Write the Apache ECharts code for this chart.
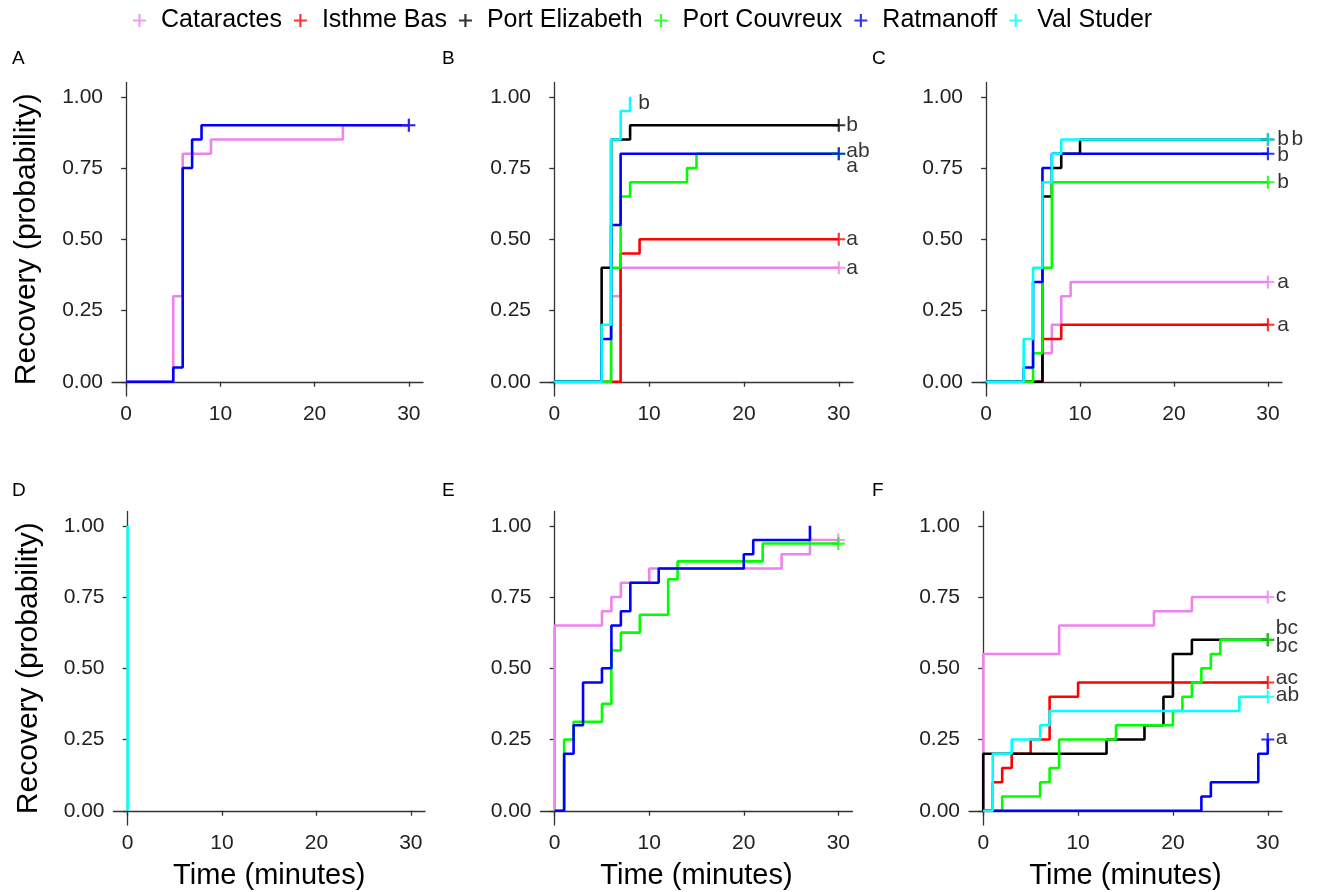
<!DOCTYPE html>
<html><head><meta charset="utf-8">
<script src="https://cdn.jsdelivr.net/npm/echarts@6/dist/echarts.min.js"></script>
<style>html,body{margin:0;padding:0;background:#fff}#c{width:1317px;height:892px}</style>
</head><body><div id="c"></div>
<script>
// ---------- DATA ----------
const groups = ['Cataractes', 'Isthme Bas', 'Port Elizabeth', 'Port Couvreux', 'Ratmanoff', 'Val Studer'];
const panelLetters = ['A', 'B', 'C', 'D', 'E', 'F'];
const xTicks = [0, 10, 20, 30];
const yTicks = [0, 0.25, 0.5, 0.75, 1];
const xTitle = 'Time (minutes)';
const yTitle = 'Recovery (probability)';

// Kaplan-Meier curves: [time, recovery probability]
const A_Cataractes = [[0,0],[5,0.30],[6,0.80],[9,0.85],[23,0.90],[30,0.90]];
const A_Ratmanoff  = [[0,0],[5,0.05],[6,0.75],[7,0.85],[8,0.90],[30,0.90]];

const B_Cataractes    = [[0,0],[6,0.30],[7,0.40],[30,0.40]];
const B_IsthmeBas     = [[0,0],[7,0.45],[9,0.50],[30,0.50]];
const B_PortElizabeth = [[0,0],[5,0.40],[6,0.85],[8,0.90],[30,0.90]];
const B_PortCouvreux  = [[0,0],[6,0.40],[7,0.65],[8,0.70],[14,0.75],[15,0.80],[30,0.80]];
const B_Ratmanoff     = [[0,0],[5,0.15],[6,0.55],[7,0.80],[30,0.80]];
const B_ValStuder     = [[0,0],[5,0.20],[6,0.85],[7,0.95],[8,1.00]];

const C_Cataractes    = [[0,0],[6,0.10],[7,0.20],[8,0.30],[9,0.35],[30,0.35]];
const C_IsthmeBas     = [[0,0],[6,0.15],[8,0.20],[30,0.20]];
const C_PortElizabeth = [[0,0],[6,0.65],[7,0.75],[8,0.80],[10,0.85],[30,0.85]];
const C_PortCouvreux  = [[0,0],[5,0.10],[6,0.40],[7,0.70],[30,0.70]];
const C_Ratmanoff     = [[0,0],[4,0.05],[5,0.35],[6,0.75],[7,0.80],[30,0.80]];
const C_ValStuder     = [[0,0],[4,0.15],[5,0.40],[6,0.70],[7,0.80],[8,0.85],[30,0.85]];

const D_ValStuder = [[0,0],[0,1.00]];

const E_Cataractes   = [[0,0],[0,0.65],[5,0.70],[6,0.75],[7,0.80],[10,0.85],[24,0.90],[27,0.95],[30,0.95]];
const E_PortCouvreux = [[0,0],[1,0.25],[2,0.3125],[5,0.375],[6,0.5625],[7,0.625],[9,0.6875],[12,0.8125],[13,0.875],[22,0.9375],[30,0.9375]];
const E_Ratmanoff    = [[0,0],[1,0.20],[2,0.30],[3,0.45],[5,0.50],[6,0.65],[7,0.70],[8,0.80],[11,0.85],[20,0.90],[21,0.95],[27,0.95],[27,1.00]];

const F_Cataractes    = [[0,0],[0,0.55],[8,0.65],[18,0.70],[22,0.75],[30,0.75]];
const F_IsthmeBas     = [[0,0],[1,0.10],[2,0.15],[3,0.20],[5,0.25],[7,0.40],[10,0.45],[30,0.45]];
const F_PortElizabeth = [[0,0],[0,0.20],[13,0.25],[17,0.30],[19,0.40],[20,0.55],[22,0.60],[30,0.60]];
const F_PortCouvreux  = [[0,0],[2,0.05],[6,0.10],[7,0.15],[8,0.25],[14,0.30],[20,0.35],[21,0.40],[22,0.45],[23,0.50],[24,0.55],[25,0.60],[30,0.60]];
const F_Ratmanoff     = [[0,0],[23,0.05],[24,0.10],[29,0.20],[30,0.25]];
const F_ValStuder     = [[0,0],[1,0.20],[3,0.25],[6,0.30],[7,0.35],[27,0.40],[30,0.40]];

// censoring marks: [group, time, probability]
const A_censor = [['Cataractes',30,0.90],['Ratmanoff',30,0.90]];
const B_censor = [['Cataractes',30,0.40],['Isthme Bas',30,0.50],['Port Elizabeth',30,0.90],['Port Couvreux',30,0.80],['Ratmanoff',30,0.80]];
const C_censor = [['Cataractes',30,0.35],['Isthme Bas',30,0.20],['Port Elizabeth',30,0.85],['Port Couvreux',30,0.70],['Ratmanoff',30,0.80],['Val Studer',30,0.85]];
const D_censor = [];
const E_censor = [['Cataractes',30,0.95],['Port Couvreux',30,0.9375]];
const F_censor = [['Cataractes',30,0.75],['Isthme Bas',30,0.45],['Port Elizabeth',30,0.60],['Port Couvreux',30,0.60],['Ratmanoff',30,0.25],['Val Studer',30,0.40]];

// significance letters: [time, probability, text]
const A_letters = [];
const B_letters = [[8.85,0.977,'b'],[30.8,0.90,'b'],[30.8,0.81,'ab'],[30.8,0.755,'a'],[30.8,0.50,'a'],[30.8,0.40,'a']];
const C_letters = [[31.0,0.85,'b'],[32.5,0.85,'b'],[31.0,0.795,'b'],[31.0,0.70,'b'],[31.0,0.35,'a'],[31.0,0.197,'a']];
const D_letters = [];
const E_letters = [];
const F_letters = [[30.85,0.754,'c'],[30.85,0.641,'bc'],[30.85,0.577,'bc'],[30.85,0.466,'ac'],[30.85,0.407,'ab'],[30.85,0.255,'a']];

// ---------- ASSEMBLY ----------
const panelCurves = [
  [['Cataractes',A_Cataractes],['Ratmanoff',A_Ratmanoff]],
  [['Cataractes',B_Cataractes],['Isthme Bas',B_IsthmeBas],['Port Elizabeth',B_PortElizabeth],['Port Couvreux',B_PortCouvreux],['Ratmanoff',B_Ratmanoff],['Val Studer',B_ValStuder]],
  [['Cataractes',C_Cataractes],['Isthme Bas',C_IsthmeBas],['Port Elizabeth',C_PortElizabeth],['Port Couvreux',C_PortCouvreux],['Ratmanoff',C_Ratmanoff],['Val Studer',C_ValStuder]],
  [['Val Studer',D_ValStuder]],
  [['Cataractes',E_Cataractes],['Port Couvreux',E_PortCouvreux],['Ratmanoff',E_Ratmanoff]],
  [['Cataractes',F_Cataractes],['Isthme Bas',F_IsthmeBas],['Port Elizabeth',F_PortElizabeth],['Port Couvreux',F_PortCouvreux],['Ratmanoff',F_Ratmanoff],['Val Studer',F_ValStuder]]
];
const panelCensor = [A_censor,B_censor,C_censor,D_censor,E_censor,F_censor];
const panelText = [A_letters,B_letters,C_letters,D_letters,E_letters,F_letters];

// ---------- STYLE / LAYOUT ----------
const groupColors = ['#EE82EE','#FF0000','#000000','#00FF00','#0000FF','#00FFFF'];
const colorOf = g => groupColors[groups.indexOf(g)];
const FONT = 'Liberation Sans, Arial, Helvetica, sans-serif';
const plusPath = 'path://M5,0h2v5h5v2h-5v5h-2v-5h-5v-2h5z';
const gridBoxes = [
  {left:112,   top:82.5,  width:311,   height:313.5},
  {left:540,   top:82.5,  width:313,   height:313.5},
  {left:972,   top:82.5,  width:310,   height:313.5},
  {left:113.5, top:511.5, width:311.5, height:313.5},
  {left:540.5, top:511.5, width:312,   height:313.5},
  {left:969,   top:511.5, width:313,   height:313.5}
];
const letterPos = [[12,49],[442,49],[872,49],[12,481],[442,481],[872,481]];
const axisCol = '#333';

const grid = [], xAxis = [], yAxis = [], series = [];
// legend carriers (scatter, so legend shows only the "+" mark)
groups.forEach((g,i)=>series.push({type:'scatter',name:g,data:[],xAxisIndex:0,yAxisIndex:0,symbol:plusPath,itemStyle:{color:groupColors[i]}}));

gridBoxes.forEach((b,p)=>{
  grid.push(Object.assign({containLabel:false},b));
  xAxis.push({
    type:'value', gridIndex:p, min:-1.5, max:31.5,
    axisLine:{show:true,lineStyle:{color:axisCol,width:1.3}},
    axisTick:{show:true,length:5,lineStyle:{color:axisCol,width:1.3},customValues:xTicks},
    axisLabel:{show:true,customValues:xTicks,fontSize:21,color:'#222',fontFamily:FONT,margin:8,formatter:v=>String(v)},
    splitLine:{show:false},
    name: p>=3 ? xTitle : '', nameLocation:'middle', nameGap:36, nameMoveOverlap:false,
    nameTextStyle:{fontSize:29,color:'#000',fontFamily:FONT,verticalAlign:'top'}
  });
  yAxis.push({
    type:'value', gridIndex:p, min:-0.05, max:1.05,
    axisLine:{show:true,lineStyle:{color:axisCol,width:1.3}},
    axisTick:{show:true,length:5,lineStyle:{color:axisCol,width:1.3},customValues:yTicks},
    axisLabel:{show:true,customValues:yTicks,fontSize:21,color:'#222',fontFamily:FONT,margin:9,formatter:v=>v.toFixed(2)},
    splitLine:{show:false},
    name: (p===0||p===3) ? yTitle : '', nameLocation:'middle', nameGap:70,
    nameTextStyle:{fontSize:30,color:'#000',fontFamily:FONT}
  });
  panelCurves[p].forEach(([g,pts])=>{
    series.push({type:'line',name:g,xAxisIndex:p,yAxisIndex:p,data:pts,step:'end',
      showSymbol:false,symbol:'none',lineStyle:{color:colorOf(g),width:2.6},itemStyle:{color:colorOf(g)},
      z:2+groups.indexOf(g)*0.01,silent:true});
  });
  panelCensor[p].forEach(([g,x,y])=>{
    series.push({type:'scatter',name:g,xAxisIndex:p,yAxisIndex:p,data:[[x,y]],symbol:plusPath,symbolSize:13,
      itemStyle:{color:colorOf(g)},z:3,silent:true});
  });
  if(panelText[p].length){
    series.push({type:'scatter',xAxisIndex:p,yAxisIndex:p,data:panelText[p],symbolSize:0,silent:true,z:4,clip:false,
      label:{show:true,position:'right',distance:0,formatter:q=>q.data[2],fontSize:21,color:'#000',fontFamily:FONT,verticalAlign:'middle'}});
  }
});

const graphic = panelLetters.map((t,i)=>({type:'text',left:letterPos[i][0],top:letterPos[i][1],
  style:{text:t,fontSize:19,fill:'#000',font:'19px '+FONT}}));

const chart = echarts.init(document.getElementById('c'),null,{renderer:'canvas'});
chart.setOption({
  animation:false,
  backgroundColor:'#fff',
  legend:{
    data:groups.map((g,i)=>({name:g,icon:plusPath,itemStyle:{color:groupColors[i]}})),
    top:3,left:128,itemWidth:13,itemHeight:13,itemGap:12,
    textStyle:{fontSize:25,color:'#000',fontFamily:FONT,padding:[0,0,0,10]},
    selectedMode:false
  },
  grid, xAxis, yAxis, series, graphic
});
</script></body></html>
